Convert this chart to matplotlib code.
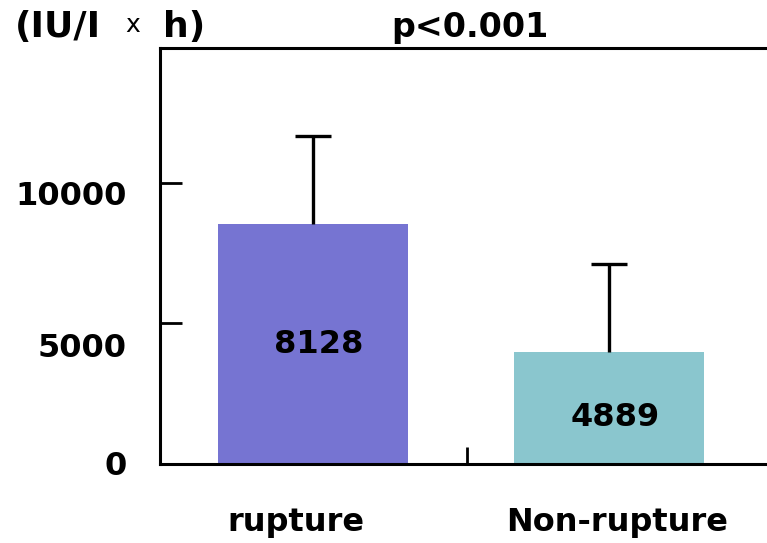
import matplotlib
matplotlib.use("Agg")
import matplotlib.pyplot as plt
import matplotlib.transforms as mtransforms

# data
groups = ["rupture", "Non-rupture"]
bar_heights = [8540, 3990]          # drawn heights
err_up = [3130, 3130]               # upper error bars
value_labels = ["8128", "4889"]     # numbers printed inside the bars
y_ticks = [0, 5000, 10000]
colors = ["#7674D2", "#8AC6CE"]

plt.rcParams["font.family"] = "DejaVu Sans"
plt.rcParams["font.weight"] = "bold"

W, H = 767, 543
fig = plt.figure(figsize=(W / 100, H / 100), dpi=100)
ax = fig.add_axes([160 / W, 1 - 464 / H, 1 - 160 / W, (464 - 48) / H])

x = [0, 1]
ax.bar(x, bar_heights, width=0.64, color=colors, zorder=2)
eb = ax.errorbar(x, bar_heights, yerr=[[0, 0], err_up], fmt="none", ecolor="black",
                 elinewidth=2.4, capsize=13, capthick=2.4, zorder=3)
# only keep the upper cap
eb[1][0].set_visible(False)

ax.set_xlim(-0.517, 1.534)
ax.set_ylim(0, 14800)

ax.set_yticks(y_ticks)
ax.set_yticklabels([str(t) for t in y_ticks], fontsize=23, fontweight="bold")
ax.tick_params(axis="y", direction="in", length=16, width=2, pad=24)
ax.set_xticks([0.52])
ax.set_xticklabels([""])
ax.tick_params(axis="x", direction="in", length=12, width=2)

# tick labels sit a bit off their ticks in the original
label_shift_px = [1, -22, -10]
for lab, dy in zip(ax.get_yticklabels(), label_shift_px):
    lab.set_transform(lab.get_transform() +
                      mtransforms.ScaledTranslation(0, dy / 100, fig.dpi_scale_trans))

for s in ["left", "bottom", "top"]:
    ax.spines[s].set_linewidth(2.2)
ax.spines["right"].set_visible(False)

# numbers inside bars
ax.text(0.02, 4235, value_labels[0], ha="center", va="center", fontsize=23, fontweight="bold")
ax.text(1.02, 1640, value_labels[1], ha="center", va="center", fontsize=23, fontweight="bold")

# category labels
fig.text(296 / W, 1 - 522 / H, groups[0], ha="center", va="center", fontsize=23, fontweight="bold")
fig.text(617 / W, 1 - 522 / H, groups[1], ha="center", va="center", fontsize=23, fontweight="bold")

# unit label and p value
ty = 1 - 27 / H
fig.text(15 / W, ty, "(IU/I", ha="left", va="center", fontsize=26, fontweight="bold")
fig.text(133 / W, ty + 2 / H, "x", ha="center", va="center", fontsize=18, fontweight="normal")
fig.text(205 / W, ty, "h)", ha="right", va="center", fontsize=26, fontweight="bold")
fig.text(470 / W, ty, "p<0.001", ha="center", va="center", fontsize=24, fontweight="bold")

fig.savefig("out.png", dpi=100)
